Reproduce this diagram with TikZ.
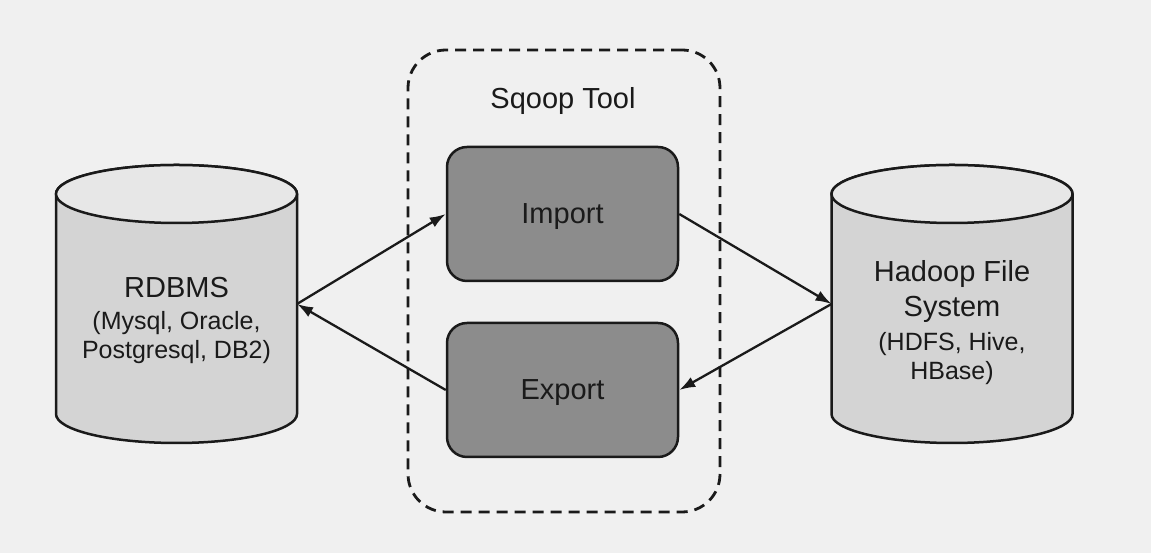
\documentclass[tikz,border=0pt]{standalone}
\usepackage{fontspec}
\setmainfont{Liberation Sans}
\usetikzlibrary{arrows.meta}
\definecolor{bgc}{HTML}{F0F0F0}
\definecolor{cylbody}{HTML}{D4D4D4}
\definecolor{cyltop}{HTML}{E7E7E7}
\definecolor{procfill}{HTML}{8C8C8C}
\definecolor{inkc}{HTML}{1A1A1A}
\tikzset{
  cylframe/.style={minimum width=241pt, minimum height=278pt, inner sep=0pt, outer sep=0pt},
  cyllabel/.style={align=center, text=inkc, inner sep=0pt, font=\fontsize{25}{29}\selectfont},
  procbox/.style={draw=inkc, fill=procfill, line width=2.5pt, rounded corners=20pt,
    minimum width=231pt, minimum height=134pt, text=inkc, font=\fontsize{29}{34}\selectfont,
    text height=21pt, text depth=2pt},
  toolbox/.style={draw=inkc, line width=2.8pt, dash pattern=on 11pt off 7pt, rounded corners=38pt,
    minimum width=312pt, minimum height=462pt},
  flow/.style={draw=inkc, line width=2.3pt, -{Latex[length=16pt,width=11pt]}},
  dbcyl/.pic={
    \filldraw[fill=cylbody, draw=inkc, line width=2.5pt]
      (-120.5,110) -- (-120.5,-110)
      arc[start angle=180, end angle=360, x radius=120.5, y radius=29]
      -- (120.5,110)
      arc[start angle=0, end angle=180, x radius=120.5, y radius=29] -- cycle;
    \filldraw[fill=cyltop, draw=inkc, line width=2.5pt]
      (0,110) ellipse[x radius=120.5, y radius=29];
  }
}
\begin{document}
\begin{tikzpicture}[x=1pt,y=1pt]
\fill[bgc] (0,0) rectangle (1151,553);
\useasboundingbox (0,0) rectangle (1151,553);

% Sqoop tool container
\node[toolbox] (tool) at (564,272) {};
\node[text=inkc, font=\fontsize{29}{34}\selectfont] (tooltitle) at (563,452) {Sqoop Tool};

% databases
\pic at (176.5,249) {dbcyl};
\node[cylframe] (rdb) at (176.5,249) {};
\node[cyllabel] (rdbtxt) at (176.5,233)
  {{\fontsize{29}{29}\selectfont RDBMS}\\[3pt](Mysql, Oracle,\\Postgresql, DB2)};

\pic at (952,249) {dbcyl};
\node[cylframe] (hdfs) at (952,249) {};
\node[cyllabel] (hdfstxt) at (952,230)
  {{\fontsize{29}{29}\selectfont Hadoop File}\\[6pt]{\fontsize{29}{29}\selectfont System}\\[5pt](HDFS, Hive,\\HBase)};

% processes
\node[procbox] (imp) at (562.5,339) {Import};
\node[procbox] (exp) at (562.5,163) {Export};

% connectors
\draw[flow] (rdb.east) -- (imp.west);
\draw[flow] (imp.east) -- (hdfs.west);
\draw[flow] (hdfs.west) -- (exp.east);
\draw[flow] (exp.west) -- (rdb.east);
\end{tikzpicture}
\end{document}
